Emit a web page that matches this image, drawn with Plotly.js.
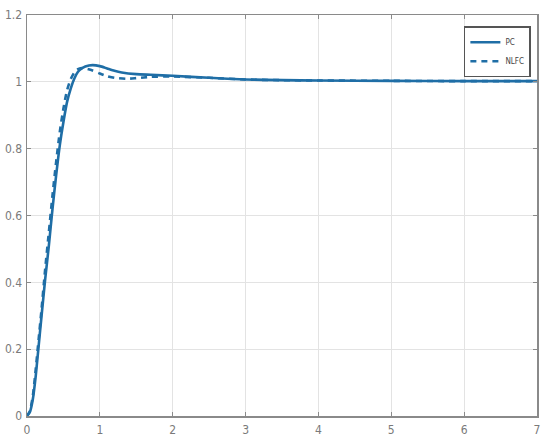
<!DOCTYPE html>
<html>
<head>
<meta charset="utf-8">
<script src="https://cdn.plot.ly/plotly-3.0.1.min.js"></script>
<style>html,body{margin:0;padding:0;background:#fff;}#chart{width:550px;height:445px;}</style>
</head>
<body>
<div id="chart"></div>
<script>
// Step response: PC (solid) and NLFC (dashed)
const tPC = [0, 0.04, 0.08, 0.12, 0.16, 0.2, 0.25, 0.3, 0.35, 0.4, 0.45, 0.5, 0.55, 0.6, 0.65, 0.7, 0.75, 0.8, 0.9, 1.0, 1.1, 1.2, 1.3, 1.5, 1.7, 2.0, 2.5, 3.0, 3.5, 4.0, 5.0, 6.0, 7.0];
const yPC = [0, 0.012, 0.05, 0.12, 0.21, 0.3, 0.41, 0.51, 0.62, 0.72, 0.81, 0.88, 0.94, 0.98, 1.01, 1.03, 1.04, 1.046, 1.05, 1.047, 1.04, 1.033, 1.028, 1.023, 1.021, 1.018, 1.012, 1.007, 1.005, 1.004, 1.003, 1.002, 1.002];

const tNLFC = [0, 0.04, 0.08, 0.12, 0.16, 0.2, 0.25, 0.3, 0.35, 0.4, 0.45, 0.5, 0.55, 0.6, 0.65, 0.7, 0.75, 0.8, 0.9, 1.0, 1.1, 1.2, 1.37, 1.5, 1.7, 2.0, 2.5, 3.0, 3.5, 4.0, 5.0, 6.0, 7.0];
const yNLFC = [0, 0.015, 0.06, 0.14, 0.23, 0.32, 0.44, 0.55, 0.66, 0.76, 0.85, 0.92, 0.975, 1.008, 1.028, 1.038, 1.041, 1.04, 1.034, 1.025, 1.017, 1.012, 1.009, 1.011, 1.015, 1.016, 1.012, 1.007, 1.005, 1.004, 1.003, 1.002, 1.002];

const seriesNames = ["PC", "NLFC"];
const xTicks = [0, 1, 2, 3, 4, 5, 6, 7];
const yTicks = [0, 0.2, 0.4, 0.6, 0.8, 1, 1.2];

const lineColor = "#1f6ea6";
const data = [
  {x: tPC, y: yPC, name: seriesNames[0], type: "scatter", mode: "lines",
   line: {color: lineColor, width: 2.6, shape: "spline", smoothing: 0.6}},
  {x: tNLFC, y: yNLFC, name: seriesNames[1], type: "scatter", mode: "lines",
   line: {color: lineColor, width: 2.6, dash: "6px,5px", shape: "spline", smoothing: 0.6}}
];

const tickFontFamily = "Liberation Sans Narrow, DejaVu Sans Condensed, Liberation Sans, Arial, sans-serif";
const axisCommon = {
  showline: true, linecolor: "#8a8a8a", linewidth: 1.5, mirror: "ticks",
  ticks: "inside", ticklen: 4, tickcolor: "#8a8a8a", tickwidth: 1,
  showgrid: true, gridcolor: "#e3e3e3", gridwidth: 1, zeroline: false,
  tickfont: {family: tickFontFamily, size: 12, color: "#7a7a7a"}
};

const layout = {
  width: 550, height: 445,
  margin: {l: 27, r: 13, t: 15, b: 29},
  paper_bgcolor: "#ffffff", plot_bgcolor: "#ffffff",
  xaxis: Object.assign({}, axisCommon, {range: [0, 7], tickvals: xTicks, ticktext: xTicks.map(String), ticklabelstandoff: 2}),
  yaxis: Object.assign({}, axisCommon, {range: [0, 1.2], tickvals: yTicks, ticktext: yTicks.map(String), ticklabelstandoff: 1}),
  showlegend: true,
  legend: {x: 0.988, y: 0.972, xanchor: "right", yanchor: "top",
    bgcolor: "#ffffff", bordercolor: "#555555", borderwidth: 1.5,
    font: {family: tickFontFamily, size: 8, color: "#444444"},
    itemwidth: 30, tracegroupgap: 0}
};

Plotly.newPlot("chart", data, layout, {displayModeBar: false, staticPlot: true});
</script>
</body>
</html>
